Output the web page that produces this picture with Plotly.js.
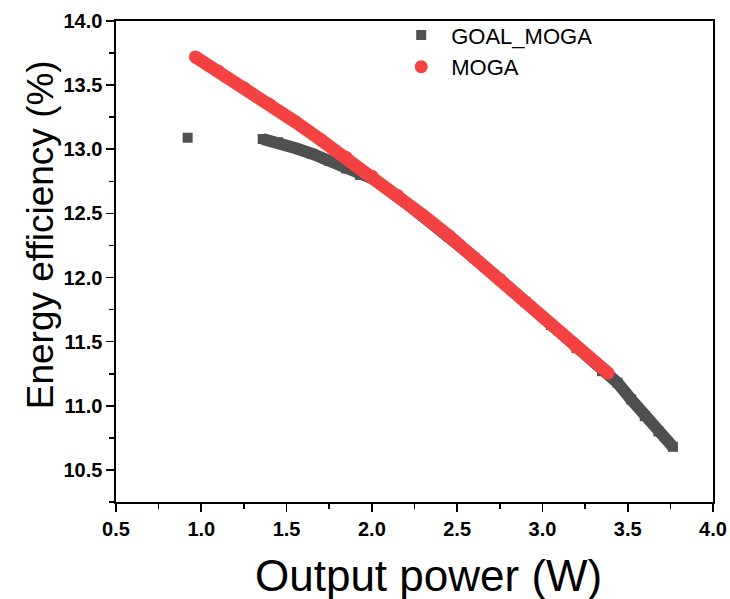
<!DOCTYPE html>
<html>
<head>
<meta charset="utf-8">
<script src="https://cdn.plot.ly/plotly-3.0.1.min.js"></script>
<style>html,body{margin:0;padding:0;background:#fff;}#chart{width:730px;height:599px;}</style>
</head>
<body>
<div id="chart"></div>
<script>
// GOAL_MOGA series (dark grey squares)
var goalX = [0.92, 1.36, 1.45, 1.55, 1.65, 1.75, 1.85, 1.93, 2.00, 2.15, 2.30, 2.45, 2.60, 2.75, 2.90, 3.05, 3.20, 3.35, 3.44, 3.52, 3.60, 3.68, 3.765];
var goalY = [13.09, 13.08, 13.055, 13.01, 12.965, 12.91, 12.85, 12.80, 12.775, 12.635, 12.48, 12.32, 12.155, 11.985, 11.81, 11.63, 11.45, 11.27, 11.18, 11.05, 10.92, 10.80, 10.68];
// MOGA series (red circles)
var mogaX = [0.965, 1.10, 1.25, 1.40, 1.55, 1.70, 1.85, 2.00, 2.15, 2.30, 2.45, 2.60, 2.75, 2.90, 3.05, 3.20, 3.385];
var mogaY = [13.72, 13.61, 13.48, 13.35, 13.215, 13.075, 12.935, 12.79, 12.64, 12.485, 12.325, 12.155, 11.985, 11.81, 11.635, 11.455, 11.255];
// axis ticks
var xTicks = [0.5, 1.0, 1.5, 2.0, 2.5, 3.0, 3.5, 4.0];
var yTicks = [10.5, 11.0, 11.5, 12.0, 12.5, 13.0, 13.5, 14.0];

var grey = '#505050';
var red = '#F44141';
var font = 'Liberation Sans, Arial, sans-serif';

var traces = [
  {x: goalX.slice(1), y: goalY.slice(1), mode: 'lines', line: {color: grey, width: 12}, showlegend: false, hoverinfo: 'skip'},
  {x: goalX, y: goalY, mode: 'markers', name: 'GOAL_MOGA', marker: {symbol: 'square', color: grey, size: 10}},
  {x: mogaX, y: mogaY, mode: 'lines', line: {color: red, width: 13}, showlegend: false, hoverinfo: 'skip'},
  {x: mogaX, y: mogaY, mode: 'markers', name: 'MOGA', marker: {symbol: 'circle', color: red, size: 13}}
];

var axisCommon = {
  showline: true, linecolor: '#000', linewidth: 1.6, mirror: true,
  ticks: 'outside', ticklen: 8, tickwidth: 1.6, tickcolor: '#000',
  showgrid: false, zeroline: false, tickformat: '.1f',
  tickfont: {family: font, size: 20, color: '#000', weight: 'bold'},
  minor: {ticks: 'outside', ticklen: 5, tickwidth: 1.6, tickcolor: '#000', dtick: 0.25, showgrid: false}
};

var layout = {
  width: 730, height: 599,
  margin: {l: 116, r: 17, t: 21, b: 97},
  paper_bgcolor: '#fff', plot_bgcolor: '#fff',
  font: {family: font, color: '#000'},
  xaxis: Object.assign({}, axisCommon, {range: [0.5, 4.0], tickvals: xTicks}),
  yaxis: Object.assign({}, axisCommon, {range: [10.25, 14.0], tickvals: yTicks}),
  showlegend: true,
  legend: {x: 0.461, y: 1.014, xanchor: 'left', yanchor: 'top', bgcolor: 'rgba(0,0,0,0)',
           font: {family: font, size: 22, color: '#000'}, itemwidth: 50},
  annotations: [
    {text: 'Output power (W)', xref: 'paper', yref: 'paper', x: 0.524, y: -0.152, xanchor: 'center', yanchor: 'middle',
     showarrow: false, font: {family: font, size: 44, color: '#000'}},
    {text: 'Energy efficiency (%)', xref: 'paper', yref: 'paper', x: -0.127, y: 0.555, xanchor: 'center', yanchor: 'middle',
     textangle: -90, showarrow: false, font: {family: font, size: 37, color: '#000'}}
  ]
};

Plotly.newPlot('chart', traces, layout, {displayModeBar: false, staticPlot: true});
</script>
</body>
</html>
